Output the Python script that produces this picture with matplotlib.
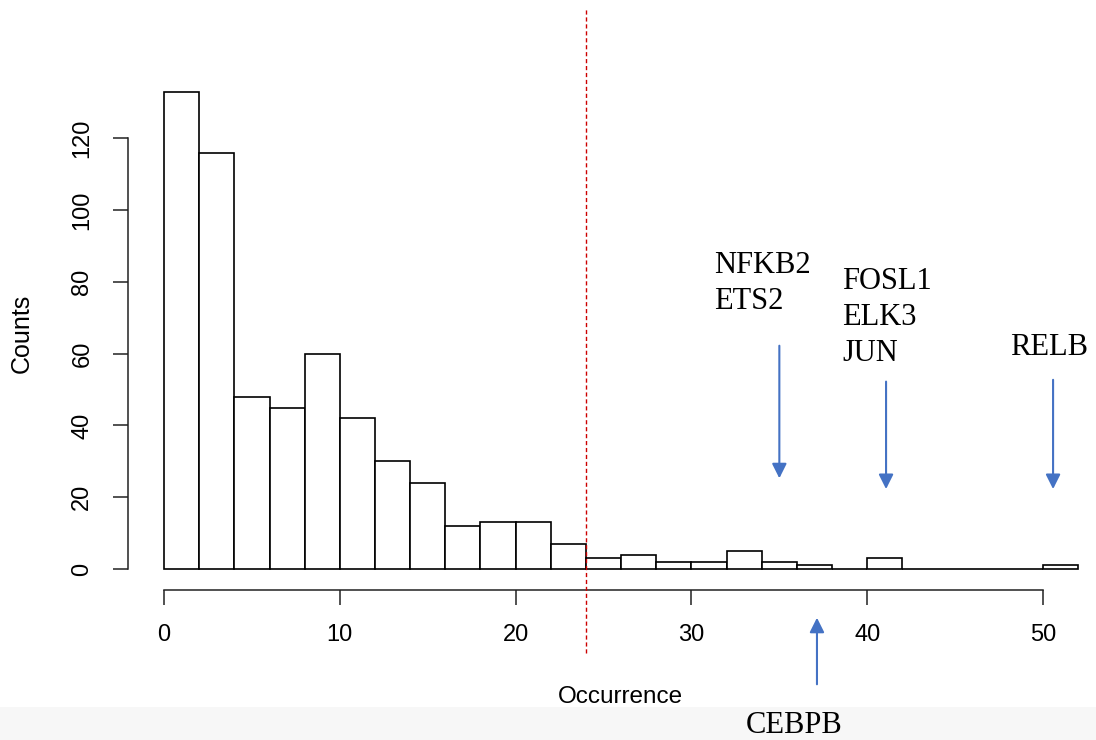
import matplotlib
matplotlib.use("Agg")
import matplotlib.pyplot as plt
from matplotlib.patches import Rectangle

# Data
bin_edges = list(range(0, 54, 2))
counts = [133, 116, 48, 45, 60, 42, 30, 24, 12, 13, 13, 7, 3, 4, 2, 2, 5, 2, 1, 0, 3, 0, 0, 0, 0, 1]
x_ticks = [0, 10, 20, 30, 40, 50]
y_ticks = [0, 20, 40, 60, 80, 100, 120]
threshold = 24
down_labels = ["NFKB2\nETS2", "FOSL1\nELK3\nJUN", "RELB"]
down_x = [35.0, 41.07, 50.57]
up_label = "CEBPB"
up_x = 37.14

W, H = 1096, 740
fig = plt.figure(figsize=(W / 100, H / 100), dpi=100)
band = Rectangle((0, 0), 1, 33 / H, transform=fig.transFigure,
                 facecolor="#f7f7f7", edgecolor="none", zorder=-10)
fig.patches.append(band)

L, R, B, T = 128, 1087, 590, 11
ax = fig.add_axes([L / W, (H - B) / H, (R - L) / W, (B - T) / H])
ax.set_facecolor("none")
ax.set_zorder(1)
ax.set_xlim(-2.05, 52.5)
ax.set_ylim(-5.85, 155.5)

lefts = bin_edges[:-1]
ax.bar(lefts, counts, width=2, align="edge", facecolor="white",
       edgecolor="black", linewidth=1.2, zorder=2)

for s in ["top", "right"]:
    ax.spines[s].set_visible(False)
ax.spines["left"].set_bounds(0, 120)
ax.spines["bottom"].set_bounds(0, 50)
for s in ["left", "bottom"]:
    ax.spines[s].set_linewidth(1.1)
    ax.spines[s].set_color("#222222")

sans = "Liberation Sans"
ax.set_xticks(x_ticks)
ax.set_yticks(y_ticks)
ax.set_yticklabels([str(v) for v in y_ticks], rotation=90, va="center")
ax.tick_params(axis="both", length=11, width=1.1, labelsize=17,
               colors="#222222", labelcolor="black")
ax.tick_params(axis="x", pad=13.5)
ax.tick_params(axis="y", pad=14)
for lab in ax.get_xticklabels() + ax.get_yticklabels():
    lab.set_fontfamily(sans)

fig.text(22 / W, 1 - 333 / H, "Counts", fontsize=18, fontfamily=sans,
         rotation=90, ha="center", va="center")
fig.text(620 / W, 1 - 697 / H, "Occurrence", fontsize=17.5, fontfamily=sans,
         ha="center", va="center")

# threshold line
ax.plot([threshold, threshold], [-23.4, 156], color="#cc0000", lw=1.0,
        linestyle=(0, (3, 2)), clip_on=False, zorder=3)

blue = "#4472C4"
serif = "Liberation Serif"
arrow_kw = dict(arrowstyle="-|>", color=blue, lw=1.5, mutation_scale=22)

# down arrows with labels
ax.annotate("", xy=(down_x[0], 24.5), xytext=(down_x[0], 63),
            arrowprops=arrow_kw, annotation_clip=False)
ax.text(31.3, 79.5, down_labels[0], fontsize=22, fontfamily=serif,
        ha="left", va="center", linespacing=1.3)

ax.annotate("", xy=(down_x[1], 21.5), xytext=(down_x[1], 53),
            arrowprops=arrow_kw, annotation_clip=False)
ax.text(38.57, 70.2, down_labels[1], fontsize=22, fontfamily=serif,
        ha="left", va="center", linespacing=1.32)

ax.annotate("", xy=(down_x[2], 21.5), xytext=(down_x[2], 53.5),
            arrowprops=arrow_kw, annotation_clip=False)
ax.text(48.1, 61.6, down_labels[2], fontsize=22, fontfamily=serif,
        ha="left", va="center")

# up arrow
ax.annotate("", xy=(up_x, -12.8), xytext=(up_x, -32.9),
            arrowprops=arrow_kw, annotation_clip=False)
ax.text(35.84, -43.5, up_label, fontsize=22, fontfamily=serif,
        ha="center", va="center", clip_on=False)

fig.savefig("out.png", dpi=100)
